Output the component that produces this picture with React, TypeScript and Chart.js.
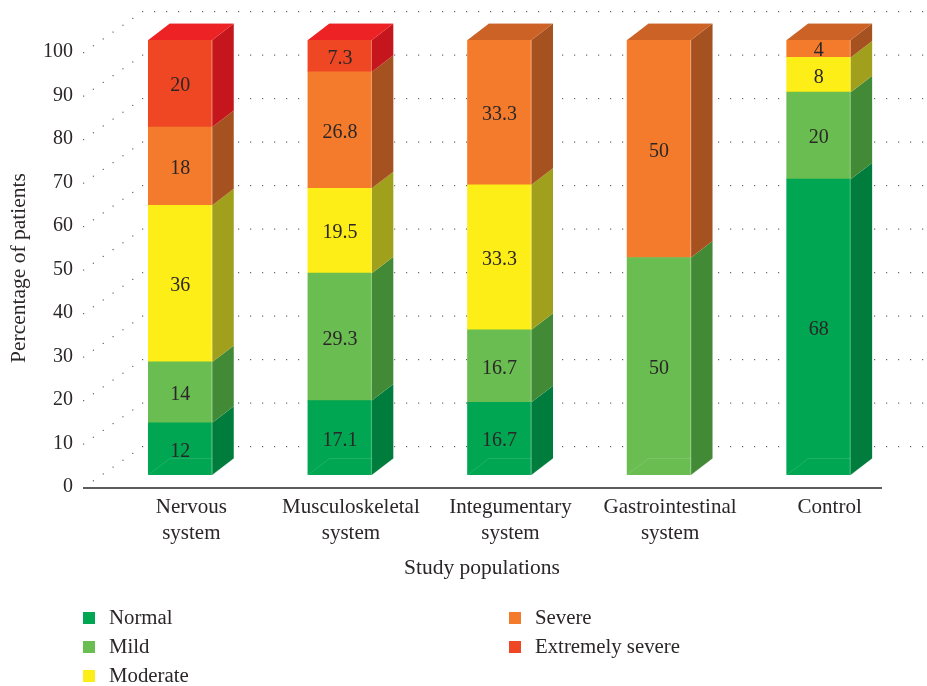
import React, { useEffect, useRef } from "react";
import { Chart, registerables } from "chart.js";

Chart.register(...registerables);

const categories = [
  ["Nervous", "system"],
  ["Musculoskeletal", "system"],
  ["Integumentary", "system"],
  ["Gastrointestinal", "system"],
  ["Control"],
];
const tickLabels = [0, 10, 20, 30, 40, 50, 60, 70, 80, 90, 100];

const normal = [12, 17.1, 16.7, null, 68];
const mild = [14, 29.3, 16.7, 50, 20];
const moderate = [36, 19.5, 33.3, null, 8];
const severe = [18, 26.8, 33.3, 50, 4];
const extremelySevere = [20, 7.3, null, null, null];

const frontColors = ["#00a651", "#69bd51", "#fcee16", "#f47b2c", "#ef4723"];
const sideColors = ["#007d3d", "#438a37", "#a0a01c", "#a65120", "#c4161c"];
const capColors = ["#00a651", "#69bd51", "#fcee16", "#cc6226", "#ed2224"];

const seriesNames = ["Normal", "Mild", "Moderate", "Severe", "Extremely severe"];
const seriesValues = [normal, mild, moderate, severe, extremelySevere];

const FONT = '"Liberation Serif", serif';
const TEXT = "#2b2627";
const DEPTH_X = 21.5;
const DEPTH_Y = 16.5;

// Dotted back wall and the receding guides beside the value axis.
const wallGrid = {
  id: "wallGrid",
  beforeDatasetsDraw(chart: any) {
    const { ctx, scales } = chart;
    const y = scales.y;
    ctx.save();
    ctx.fillStyle = "#666666";
    for (const t of tickLabels) {
      const p = y.getPixelForValue(t);
      const back = p - 29;
      const front = p + 12;
      for (let i = 0; i < 6; i++) {
        if (t === 0 && i === 0) continue;
        ctx.fillRect(83 + (i * 59) / 6, front + ((back - front) * i) / 6, 1.2, 1.2);
      }
      for (let x = 142; x < 927; x += 12) ctx.fillRect(x, back, 1.2, 1.2);
    }
    ctx.restore();
  },
};

// Side and top faces of each stacked column, derived from the bar elements.
const columnFaces = {
  id: "columnFaces",
  afterDatasetsDraw(chart: any) {
    const { ctx } = chart;
    const dsCount = chart.data.datasets.length;
    ctx.save();
    categories.forEach((_, col) => {
      let topIdx = -1;
      for (let d = 0; d < dsCount; d++) {
        if (chart.data.datasets[d].data[col] == null) continue;
        topIdx = d;
        const el = chart.getDatasetMeta(d).data[col];
        const right = el.x + el.width / 2;
        ctx.fillStyle = sideColors[d];
        ctx.beginPath();
        ctx.moveTo(right, el.base);
        ctx.lineTo(right + DEPTH_X, el.base - DEPTH_Y);
        ctx.lineTo(right + DEPTH_X, el.y - DEPTH_Y);
        ctx.lineTo(right, el.y);
        ctx.closePath();
        ctx.fill();
      }
      const topEl = chart.getDatasetMeta(topIdx).data[col];
      const l = topEl.x - topEl.width / 2;
      const r = topEl.x + topEl.width / 2;
      const t = topEl.y;
      ctx.fillStyle = capColors[topIdx];
      ctx.beginPath();
      ctx.moveTo(l, t);
      ctx.lineTo(l + DEPTH_X, t - DEPTH_Y);
      ctx.lineTo(r + DEPTH_X, t - DEPTH_Y);
      ctx.lineTo(r, t);
      ctx.closePath();
      ctx.fill();

      // Pale outer edge along the back of the column.
      const floor = chart.scales.y.getPixelForValue(0);
      ctx.strokeStyle = "rgba(255,255,255,0.3)";
      ctx.lineWidth = 1;
      ctx.beginPath();
      ctx.moveTo(l + DEPTH_X, t - DEPTH_Y - 0.5);
      ctx.lineTo(r + DEPTH_X + 0.5, t - DEPTH_Y - 0.5);
      ctx.lineTo(r + DEPTH_X + 0.5, floor - DEPTH_Y);
      ctx.stroke();

      // Hidden floor edges showing faintly through the front face.
      ctx.strokeStyle = "rgba(255,255,255,0.12)";
      ctx.beginPath();
      ctx.moveTo(l, floor);
      ctx.lineTo(l + DEPTH_X, floor - DEPTH_Y);
      ctx.lineTo(r, floor - DEPTH_Y);
      ctx.stroke();
      ctx.strokeStyle = "rgba(255,255,255,0.3)";
      ctx.beginPath();
      ctx.moveTo(r, floor);
      ctx.lineTo(r + DEPTH_X, floor - DEPTH_Y);
      ctx.moveTo(r - 0.5, floor);
      ctx.lineTo(r - 0.5, topEl.y);
      ctx.stroke();
    });
    ctx.restore();
  },
};

// Value labels, axis line, axis titles and the two-column key.
const annotations = {
  id: "annotations",
  afterDraw(chart: any) {
    const { ctx, scales } = chart;
    ctx.save();
    ctx.fillStyle = TEXT;
    ctx.textAlign = "center";
    ctx.textBaseline = "middle";
    ctx.font = `20px ${FONT}`;
    chart.data.datasets.forEach((ds: any, d: number) => {
      const meta = chart.getDatasetMeta(d);
      ds.data.forEach((v: number | null, i: number) => {
        if (v == null) return;
        const el = meta.data[i];
        ctx.fillText(String(v), el.x, (el.y + el.base) / 2 + 2.5);
      });
    });

    const axisY = scales.y.getPixelForValue(0) + 13;
    ctx.fillStyle = "#2b2627";
    ctx.fillRect(83, axisY - 0.75, 799, 1.5);

    ctx.fillStyle = TEXT;
    ctx.font = `21.5px ${FONT}`;
    ctx.fillText("Study populations", 482, 568);
    ctx.save();
    ctx.translate(19, 268);
    ctx.rotate(-Math.PI / 2);
    ctx.fillText("Percentage of patients", 0, 0);
    ctx.restore();

    ctx.font = `20.8px ${FONT}`;
    ctx.textAlign = "left";
    chart.data.datasets.forEach((ds: any, d: number) => {
      const second = d > 2;
      const row = second ? d - 3 : d;
      const boxX = second ? 509 : 83;
      const y = 612 + row * 29;
      ctx.fillStyle = ds.backgroundColor;
      ctx.fillRect(boxX, y, 12, 12);
      ctx.fillStyle = TEXT;
      ctx.fillText(ds.label, second ? 535 : 109, y + 6.5);
    });
    ctx.restore();
  },
};

export default function App() {
  const ref = useRef<HTMLCanvasElement | null>(null);

  useEffect(() => {
    document.body.style.margin = "0";
    const chart = new Chart(ref.current as HTMLCanvasElement, {
      type: "bar",
      data: {
        labels: categories,
        datasets: seriesNames.map((label, i) => ({
          label,
          data: seriesValues[i],
          backgroundColor: frontColors[i],
          borderWidth: 0,
          barThickness: 64,
        })),
      },
      options: {
        responsive: false,
        animation: false,
        layout: { padding: { top: 40, right: 28.5, bottom: 0, left: 0 } },
        plugins: { legend: { display: false }, tooltip: { enabled: false } },
        scales: {
          x: {
            stacked: true,
            grid: { display: false, drawTicks: false },
            border: { display: false },
            afterFit(scale: any) {
              scale.height = 211;
            },
            ticks: {
              color: TEXT,
              font: { family: FONT, size: 21, lineHeight: 1.24 },
              padding: 19,
              maxRotation: 0,
              autoSkip: false,
              labelOffset: 11,
            },
          },
          y: {
            stacked: true,
            min: 0,
            max: 100,
            grid: { display: false, drawTicks: false },
            border: { display: false },
            afterFit(scale: any) {
              scale.width = 100.5;
            },
            ticks: {
              stepSize: 10,
              color: TEXT,
              font: { family: FONT, size: 20 },
              padding: 27.5,
              labelOffset: 12,
            },
          },
        },
      },
      plugins: [wallGrid, columnFaces, annotations],
    } as any);
    return () => chart.destroy();
  }, []);

  return <canvas ref={ref} width={927} height={686} style={{ display: "block" }} />;
}
